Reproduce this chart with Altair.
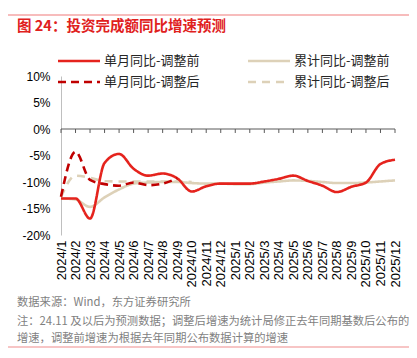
import altair as alt
import pandas as pd

categories = ["2024/1", "2024/2", "2024/3", "2024/4", "2024/5", "2024/6",
              "2024/7", "2024/8", "2024/9", "2024/10", "2024/11", "2024/12",
              "2025/1", "2025/2", "2025/3", "2025/4", "2025/5", "2025/6",
              "2025/7", "2025/8", "2025/9", "2025/10", "2025/11", "2025/12"]

single_before = [-13.1, -13.1, -16.9, -6.4, -4.7, -7.5, -8.8, -8.4, -9.3, -11.8, -10.8, -10.3,
                 -10.3, -10.3, -9.9, -9.4, -8.8, -9.8, -10.7, -11.9, -10.9, -10.1, -6.6, -5.8]
cum_before = [-13.1, -13.3, -14.7, -12.9, -11.4, -10.3, -10.1, -10.0, -10.0, -10.2, -10.3, -10.3,
              -10.4, -10.4, -10.1, -9.9, -9.7, -9.8, -10.0, -10.2, -10.2, -10.1, -9.9, -9.7]
single_after = [-12.8, -4.3, -9.6, -10.4, -10.7, -10.1, -10.6, -10.3, -9.3]
cum_after = [-12.8, -8.8, -9.2, -9.8, -9.9, -9.9, -9.9, -9.9, -9.9, -10.0]

series_names = ["单月同比-调整前", "累计同比-调整前", "单月同比-调整后", "累计同比-调整后"]
series_values = [single_before, cum_before, single_after, cum_after]
series_colors = ["#e5231d", "#ddd1b8", "#c00000", "#ddd1b8"]
series_dash = [[1, 0], [1, 0], [8, 5], [8, 6]]

rows = []
for name, vals in zip(series_names, series_values):
    for c, v in zip(categories, vals):
        rows.append({"cat": c, "series": name, "value": v})
df = pd.DataFrame(rows)

FONT = "Noto Sans CJK SC"

xscale = alt.Scale(type="point", padding=0)
yscale = alt.Scale(domain=[-20, 10], nice=False, zero=False)

x_axis = alt.Axis(orient="bottom", domain=False, ticks=False, labelAngle=-90,
                  labelFont="Liberation Sans", labelFontSize=13, labelColor="#000000",
                  labelPadding=5, labelOverlap=False, title=None)
y_axis = alt.Axis(orient="left", domain=True, domainColor="#bfbfbf", ticks=False, grid=False,
                  values=[-20, -15, -10, -5, 0, 5, 10], labelExpr="datum.value + '%'",
                  labelFont="Liberation Sans", labelFontSize=12, labelColor="#000000",
                  labelPadding=11, title=None)


def xenc():
    return alt.X("cat:N", sort=categories, scale=xscale, axis=x_axis)


def yenc():
    return alt.Y("value:Q", scale=yscale, axis=y_axis)


layers = []

# zero line with ticks
zero_df = pd.DataFrame({"value": [0]})
layers.append(alt.Chart(zero_df).mark_rule(color="#595959", strokeWidth=1).encode(y=yenc()))
tick_df = pd.DataFrame({"cat": categories, "value": [0] * len(categories), "v2": [-0.75] * len(categories)})
layers.append(alt.Chart(tick_df).mark_rule(color="#595959", strokeWidth=1).encode(
    x=xenc(), y=yenc(), y2="v2:Q"))

# series lines (draw beige first, then red)
order = [1, 3, 0, 2]
for i in order:
    sub = df[df["series"] == series_names[i]]
    layers.append(alt.Chart(sub).mark_line(
        color=series_colors[i], strokeDash=series_dash[i], strokeWidth=2.6,
        interpolate="monotone").encode(x=xenc(), y=yenc()))

one = pd.DataFrame({"a": [0]})

# legend
leg_pos = [(-3, -15), (187, -15), (-3, 6), (187, 6)]
for i, (lx, ly) in enumerate(leg_pos):
    layers.append(alt.Chart(one).mark_rule(
        color=series_colors[i], strokeDash=series_dash[i], strokeWidth=2.6).encode(
        x=alt.value(lx), x2=alt.value(lx + 42), y=alt.value(ly)))
    layers.append(alt.Chart(one).mark_text(
        text=series_names[i], font=FONT, fontSize=13, color="#262626",
        align="left", baseline="middle").encode(x=alt.value(lx + 46), y=alt.value(ly)))

# title and frame lines
layers.append(alt.Chart(one).mark_rule(color="#ef7b7b", strokeWidth=1.2).encode(
    x=alt.value(-53), x2=alt.value(348), y=alt.value(-61)))
layers.append(alt.Chart(one).mark_text(
    text="图 24：投资完成额同比增速预测", font=FONT, fontSize=14.5, fontWeight="bold",
    color="#e0211d", align="left", baseline="middle").encode(x=alt.value(-44), y=alt.value(-49)))

notes = ["数据来源：Wind，东方证券研究所",
         "注：24.11 及以后为预测数据；调整后增速为统计局修正去年同期基数后公布的",
         "增速，调整前增速为根据去年同期公布数据计算的增速"]
note_y = [227, 245.5, 263]
for t, ny in zip(notes, note_y):
    layers.append(alt.Chart(one).mark_text(
        text=t, font=FONT, fontSize=11.3, color="#7f7f7f",
        align="left", baseline="middle").encode(x=alt.value(-44), y=alt.value(ny)))

layers.append(alt.Chart(one).mark_rule(color="#f08c8c", strokeWidth=1.2).encode(
    x=alt.value(-53), x2=alt.value(348), y=alt.value(271)))

chart = alt.layer(*layers).properties(
    width=334, height=159,
    padding={"left": 53, "top": 68, "right": 14, "bottom": 115},
    autosize=alt.AutoSizeParams(type="none"),
    background="white",
).configure_view(stroke=None)

chart.save("out.html", embed_options={"renderer": "svg", "actions": False})
